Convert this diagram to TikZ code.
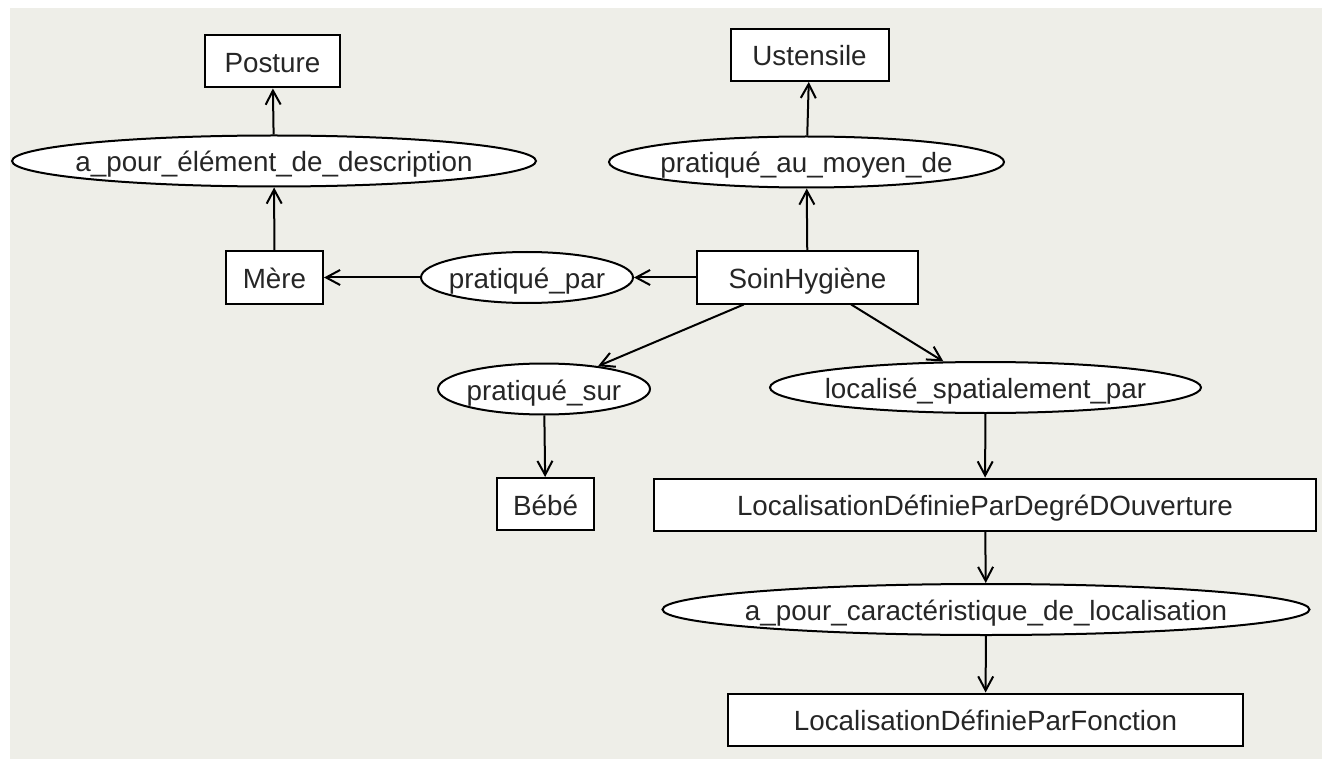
\documentclass[tikz,border=0pt]{standalone}
\usepackage{fontspec}
\setmainfont{Liberation Sans}
\usetikzlibrary{shapes,arrows.meta}
\definecolor{canvas}{RGB}{238,238,232}

\begin{document}
\begin{tikzpicture}[x=1pt,y=-1pt,
      every node/.style={draw,fill=white,line width=2pt,text=black!85,inner sep=0pt,
        text height=22pt,text depth=0pt,font=\fontsize{27.8}{33}\selectfont},
      concept/.style={rectangle,minimum height=52pt},
      relation/.style={ellipse,minimum height=51pt,inner xsep=-300pt},
      link/.style={line width=2pt,-{Straight Barb[length=14pt,width=15pt]}}]
    \useasboundingbox (0,0) rectangle (1322,759);
    \fill[white] (0,0) rectangle (1322,759);
    \fill[canvas] (10,8) rectangle (1322,759);

    \node[concept,minimum width=135pt] (posture) at (272.5,61.5) {Posture};
    \node[concept,minimum width=158pt] (ustensile) at (809.5,55) {Ustensile};
    \node[relation,minimum width=524pt] (element) at (274,161) {a\_pour\_élément\_de\_description};
    \node[relation,minimum width=395pt] (moyen) at (806.5,162) {pratiqué\_au\_moyen\_de};
    \node[concept,minimum width=97pt] (mere) at (274.5,277.5) {Mère};
    \node[relation,minimum width=212pt] (par) at (527,277.5) {pratiqué\_par};
    \node[concept,minimum width=221pt] (soin) at (807.5,277.5) {SoinHygiène};
    \node[relation,minimum width=212pt] (sur) at (544,389) {pratiqué\_sur};
    \node[relation,minimum width=431pt] (localise) at (985.5,387.5) {localisé\_spatialement\_par};
    \node[concept,minimum width=97pt] (bebe) at (545.5,504) {Bébé};
    \node[concept,minimum width=662pt] (degre) at (985,504.5) {LocalisationDéfinieParDegréDOuverture};
    \node[relation,minimum width=647pt] (caract) at (986,609.5) {a\_pour\_caractéristique\_de\_localisation};
    \node[concept,minimum width=515pt] (fonction) at (985.5,719.5) {LocalisationDéfinieParFonction};

    \draw[link] (mere) -- (element);
    \draw[link] (element) -- (posture);
    \draw[link] (soin) -- (par);
    \draw[link] (par) -- (mere);
    \draw[link] (soin) -- (moyen);
    \draw[link] (moyen) -- (ustensile);
    \draw[link] (soin) -- (sur);
    \draw[link] (sur) -- (bebe);
    \draw[link] (soin) -- (localise);
    \draw[link] (localise) -- (degre);
    \draw[link] (degre) -- (caract);
    \draw[link] (caract) -- (fonction);
\end{tikzpicture}
\end{document}
